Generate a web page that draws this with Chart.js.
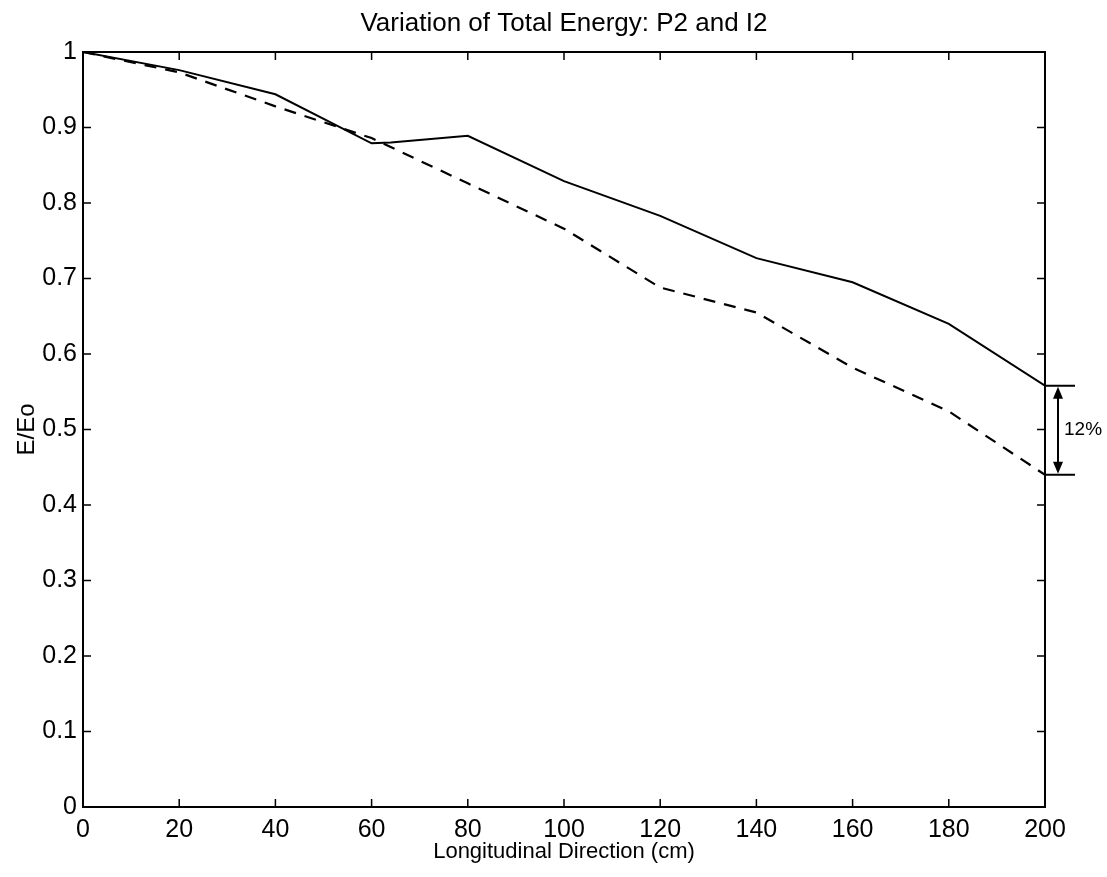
<!DOCTYPE html>
<html>
<head>
<meta charset="utf-8">
<title>Variation of Total Energy</title>
<script src="https://cdn.jsdelivr.net/npm/chart.js@4.4.0/dist/chart.umd.min.js"></script>
<style>
  html, body { margin: 0; padding: 0; background: #fff; }
  #wrap { width: 1107px; height: 877px; position: relative; }
</style>
</head>
<body>
<div id="wrap"><canvas id="chart_totalEnergy"></canvas></div>
<script>
// values
var solidX  = [0, 20, 40, 60, 64, 80, 100, 120, 140, 160, 180, 200];
var solidY  = [1.0, 0.976, 0.944, 0.879, 0.880, 0.889, 0.829, 0.783, 0.727, 0.695, 0.640, 0.558];
var dashedX = [0, 20, 40, 60, 80, 100, 120, 140, 160, 180, 200];
var dashedY = [1.0, 0.973, 0.928, 0.886, 0.826, 0.766, 0.688, 0.655, 0.582, 0.524, 0.440];

var titleText = 'Variation of Total Energy: P2 and I2';
var xLabel = 'Longitudinal Direction (cm)';
var yLabel = 'E/Eo';
var gapLabel = '12%';

var FONT = "'Liberation Sans', Arial, Helvetica, sans-serif";
Chart.defaults.font.family = FONT;
Chart.defaults.color = '#000';

function toPoints(xs, ys) {
    return xs.map(function (x, i) { return { x: x, y: ys[i] }; });
}

var chart_totalEnergy = new Chart(document.getElementById('chart_totalEnergy'), {
    type: 'line',
    data: {
        datasets: [
            {
                label: 'P2',
                data: toPoints(solidX, solidY),
                borderColor: '#000',
                borderWidth: 2,
                pointRadius: 0,
                tension: 0,
                fill: false
            },
            {
                label: 'I2',
                data: toPoints(dashedX, dashedY),
                borderColor: '#000',
                borderWidth: 2.2,
                borderDash: [12, 9],
                pointRadius: 0,
                tension: 0,
                fill: false
            }
        ]
    },
    options: {
        animation: false,
        responsive: true,
        maintainAspectRatio: false,
        layout: {
            padding: { left: 0, right: 62, top: 52, bottom: 0 }
        },
        plugins: {
            legend: { display: false },
            title: { display: false },
            tooltip: { enabled: false }
        },
        scales: {
            x: {
                type: 'linear',
                min: 0,
                max: 200,
                ticks: {
                    stepSize: 20,
                    font: { size: 25 },
                    padding: 8,
                    maxRotation: 0,
                    autoSkip: false
                },
                grid: { display: false, drawTicks: false },
                border: { display: true, color: '#000', width: 2 },
                title: {
                    display: true,
                    text: xLabel,
                    font: { size: 22 },
                    padding: { top: 0, bottom: 12 }
                },
                afterFit: function (scale) { scale.height = 70; }
            },
            y: {
                type: 'linear',
                min: 0,
                max: 1,
                ticks: {
                    stepSize: 0.1,
                    font: { size: 25 },
                    padding: 6,
                    callback: function (v) { return String(Number(v.toFixed(1))); }
                },
                grid: { display: false, drawTicks: false },
                border: { display: true, color: '#000', width: 2 },
                title: {
                    display: true,
                    text: yLabel,
                    font: { size: 24 },
                    padding: { top: 13, bottom: 0 }
                },
                afterFit: function (scale) { scale.width = 83; }
            }
        }
    },
    plugins: [{
        id: 'matlabFrame',
        beforeDraw: function (chart) {
            var ctx = chart.ctx;
            ctx.save();
            ctx.fillStyle = 'white';
            ctx.fillRect(0, 0, chart.width, chart.height);
            ctx.restore();
        },
        afterDraw: function (chart) {
            var ctx = chart.ctx;
            var a = chart.chartArea;
            var x = chart.scales.x;
            var y = chart.scales.y;
            ctx.save();
            ctx.strokeStyle = '#000';
            ctx.fillStyle = '#000';

            // top and right edges of the box
            ctx.lineWidth = 2;
            ctx.beginPath();
            ctx.moveTo(a.left, a.top);
            ctx.lineTo(a.right, a.top);
            ctx.lineTo(a.right, a.bottom);
            ctx.stroke();

            // inward tick marks on all four sides
            ctx.lineWidth = 1.5;
            ctx.beginPath();
            x.ticks.forEach(function (t) {
                if (t.value <= x.min || t.value >= x.max) return;
                var px = x.getPixelForValue(t.value);
                ctx.moveTo(px, a.bottom); ctx.lineTo(px, a.bottom - 8);
                ctx.moveTo(px, a.top); ctx.lineTo(px, a.top + 8);
            });
            y.ticks.forEach(function (t) {
                if (t.value <= y.min || t.value >= y.max) return;
                var py = y.getPixelForValue(t.value);
                ctx.moveTo(a.left, py); ctx.lineTo(a.left + 8, py);
                ctx.moveTo(a.right, py); ctx.lineTo(a.right - 8, py);
            });
            ctx.stroke();

            // title
            ctx.font = '26px ' + FONT;
            ctx.textAlign = 'center';
            ctx.textBaseline = 'alphabetic';
            ctx.fillText(titleText, (a.left + a.right) / 2, 31);

            // hand-drawn 12% gap marker between the two end values
            var yHi = y.getPixelForValue(solidY[solidY.length - 1]);
            var yLo = y.getPixelForValue(dashedY[dashedY.length - 1]);
            var ax = a.right + 13;
            ctx.lineWidth = 2;
            ctx.beginPath();
            ctx.moveTo(a.right, yHi); ctx.lineTo(a.right + 30, yHi);
            ctx.moveTo(a.right, yLo); ctx.lineTo(a.right + 30, yLo);
            ctx.moveTo(ax, yHi + 10); ctx.lineTo(ax, yLo - 10);
            ctx.stroke();
            ctx.beginPath();
            ctx.moveTo(ax, yHi + 1); ctx.lineTo(ax - 5, yHi + 13); ctx.lineTo(ax + 5, yHi + 13); ctx.closePath();
            ctx.moveTo(ax, yLo - 1); ctx.lineTo(ax - 5, yLo - 13); ctx.lineTo(ax + 5, yLo - 13); ctx.closePath();
            ctx.fill();
            ctx.font = '19px ' + FONT;
            ctx.textAlign = 'left';
            ctx.textBaseline = 'middle';
            ctx.fillText(gapLabel, a.right + 19, (yHi + yLo) / 2);
            ctx.restore();
        }
    }]
});
</script>
</body>
</html>
